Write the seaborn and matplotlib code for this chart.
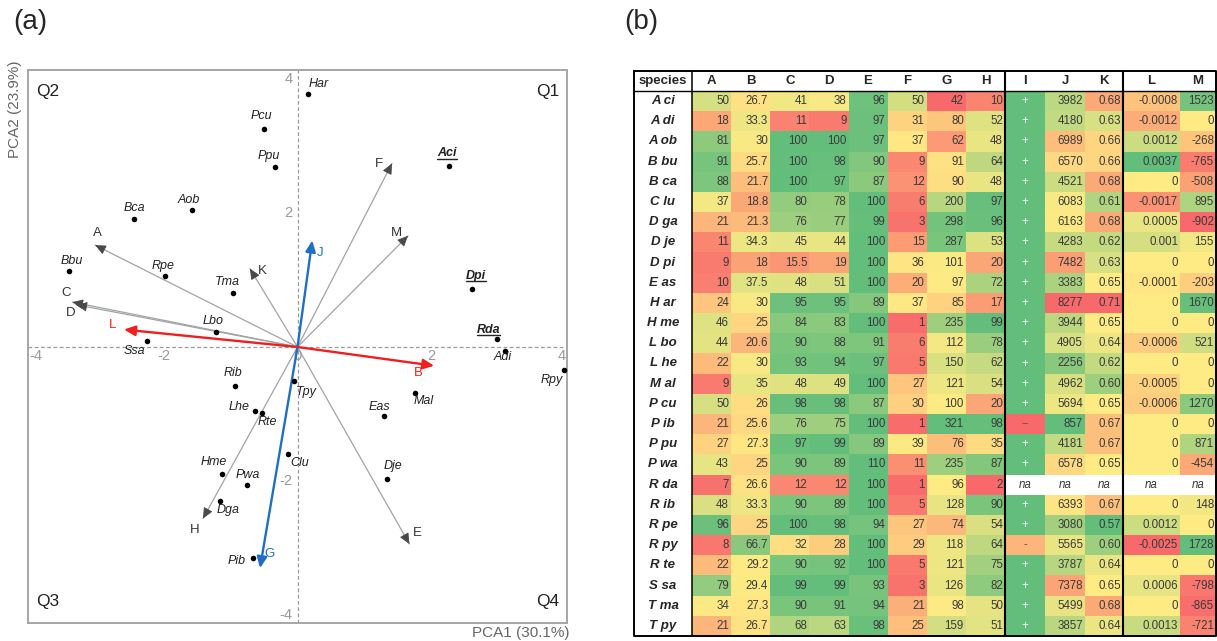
import numpy as np
import pandas as pd
import matplotlib
matplotlib.use("Agg")
import matplotlib.pyplot as plt
import seaborn as sns
from matplotlib import font_manager
from matplotlib.colors import LinearSegmentedColormap, TwoSlopeNorm
from matplotlib.lines import Line2D

# ---------------- panel (a): PCA biplot data ----------------
sp_codes = ["Aci", "Adi", "Aob", "Bbu", "Bca", "Clu", "Dga", "Dje", "Dpi", "Eas",
            "Har", "Hme", "Lbo", "Lhe", "Mal", "Pcu", "Pib", "Ppu", "Pwa", "Rda",
            "Rib", "Rpe", "Rpy", "Rte", "Ssa", "Tma", "Tpy"]
sp_pc1 = [2.26, 3.10, -1.58, -3.41, -2.44, -0.14, -1.16, 1.33, 2.60, 1.29,
          0.15, -1.13, -1.22, -0.64, 1.75, -0.50, -0.66, -0.33, -0.76, 2.97,
          -0.93, -1.97, 3.97, -0.53, -2.24, -0.97, -0.05]
sp_pc2 = [2.70, -0.06, 2.04, 1.14, 1.91, -1.60, -2.30, -1.97, 0.87, -1.03,
          3.77, -1.90, 0.23, -0.95, -0.69, 3.25, -3.15, 2.68, -2.06, 0.12,
          -0.58, 1.06, -0.35, -0.99, 0.09, 0.80, -0.50]
sp_highlight = ["Aci", "Dpi", "Rda"]

var_names = ["A", "B", "C", "D", "E", "F", "G", "H", "J", "K", "L", "M"]
var_pc1 = [-3.02, 2.04, -3.36, -3.30, 1.67, 1.41, -0.56, -1.41, 0.22, -0.71, -2.59, 1.65]
var_pc2 = [1.52, -0.28, 0.67, 0.63, -2.94, 2.74, -3.30, -2.56, 1.59, 1.17, 0.26, 1.66]

pc1_label = "PCA1 (30.1%)"
pc2_label = "PCA2 (23.9%)"
quadrants = ["Q1", "Q2", "Q3", "Q4"]

# ---------------- panel (b): table data ----------------
species = ["A ci", "A di", "A ob", "B bu", "B ca", "C lu", "D ga", "D je", "D pi",
           "E as", "H ar", "H me", "L bo", "L he", "M al", "P cu", "P ib", "P pu",
           "P wa", "R da", "R ib", "R pe", "R py", "R te", "S sa", "T ma", "T py"]
col_A = [50, 18, 81, 91, 88, 37, 21, 11, 9, 10, 24, 46, 44, 22, 9, 50, 21, 27, 43, 7, 48, 96, 8, 22, 79, 34, 21]
col_B = [26.7, 33.3, 30, 25.7, 21.7, 18.8, 21.3, 34.3, 18, 37.5, 30, 25, 20.6, 30, 35, 26, 25.6,
         27.3, 25, 26.6, 33.3, 25, 66.7, 29.2, 29.4, 27.3, 26.7]
col_C = [41, 11, 100, 100, 100, 80, 76, 45, 15.5, 48, 95, 84, 90, 93, 48, 98, 76, 97, 90, 12,
         90, 100, 32, 90, 99, 90, 68]
col_D = [38, 9, 100, 98, 97, 78, 77, 44, 19, 51, 95, 83, 88, 94, 49, 98, 75, 99, 89, 12,
         89, 98, 28, 92, 99, 91, 63]
col_E = [96, 97, 97, 90, 87, 100, 99, 100, 100, 100, 89, 100, 91, 97, 100, 87, 100, 89, 110,
         100, 100, 94, 100, 100, 93, 94, 98]
col_F = [50, 31, 37, 9, 12, 6, 3, 15, 36, 20, 37, 1, 6, 5, 27, 30, 1, 39, 11, 1, 5, 27, 29, 5, 3, 21, 25]
col_G = [42, 80, 62, 91, 90, 200, 298, 287, 101, 97, 85, 235, 112, 150, 121, 100, 321, 76, 235,
         96, 128, 74, 118, 121, 126, 98, 159]
col_H = [10, 52, 48, 64, 48, 97, 96, 53, 20, 72, 17, 99, 78, 62, 54, 20, 98, 35, 87, 2, 90, 54,
         64, 75, 82, 50, 51]
col_I = ["+", "+", "+", "+", "+", "+", "+", "+", "+", "+", "+", "+", "+", "+", "+", "+", "--",
         "+", "+", None, "+", "+", "-", "+", "+", "+", "+"]
col_J = [3982, 4180, 6989, 6570, 4521, 6083, 6163, 4283, 7482, 3383, 8277, 3944, 4905, 2256,
         4962, 5694, 857, 4181, 6578, None, 6393, 3080, 5565, 3787, 7378, 5499, 3857]
col_K = [0.68, 0.63, 0.66, 0.66, 0.68, 0.61, 0.68, 0.62, 0.63, 0.65, 0.71, 0.65, 0.64, 0.62,
         0.60, 0.65, 0.67, 0.67, 0.65, None, 0.67, 0.57, 0.60, 0.64, 0.65, 0.68, 0.64]
col_L = [-0.0008, -0.0012, 0.0012, 0.0037, 0, -0.0017, 0.0005, 0.001, 0, -0.0001, 0, 0,
         -0.0006, 0, -0.0005, -0.0006, 0, 0, 0, None, 0, 0.0012, -0.0025, 0, 0.0006, 0, 0.0013]
col_M = [1523, 0, -268, -765, -508, 895, -902, 155, 0, -203, 1670, 0, 521, 0, 0, 1270, 0, 871,
         -454, None, 148, 0, 1728, 0, -798, -865, -721]

table_cols = ["A", "B", "C", "D", "E", "F", "G", "H", "I", "J", "K", "L", "M"]
table = pd.DataFrame({"A": col_A, "B": col_B, "C": col_C, "D": col_D, "E": col_E,
                      "F": col_F, "G": col_G, "H": col_H, "I": col_I, "J": col_J,
                      "K": col_K, "L": col_L, "M": col_M}, index=species)

# colour scale per column: (low, mid, high, reversed)
scales = {"A": (5, 32, 100, False), "B": (10, 28, 80, False), "C": (5, 35, 100, False),
          "D": (5, 35, 100, False), "E": (0, 50, 100, False), "F": (0, 38, 80, False),
          "G": (42, 95, 321, False), "H": (2, 40, 99, False),
          "J": (857, 6300, 8277, True), "K": (0.57, 0.65, 0.71, True),
          "L": (-0.0025, 0, 0.0037, False), "M": (-902, 0, 1728, False)}
sign_level = {"+": 1.0, "-": 0.3, "--": 0.0}
fmt = {"K": "{:.2f}"}

# ---------------- style ----------------
sns.set_style("white")
plt.rcParams["font.family"] = ["Liberation Sans", "DejaVu Sans"]
available = {f.name for f in font_manager.fontManager.ttflist}
NARROW = "Liberation Sans Narrow" if "Liberation Sans Narrow" in available else "Liberation Sans"
NUM_SIZE = 9.5 if NARROW.endswith("Narrow") else 8.3

W, H = 1217, 641
fig = plt.figure(figsize=(W / 100, H / 100), dpi=100)


def fbox(x0, y0, x1, y1):
    # pixel box (top-left origin) -> figure fraction rect
    return [x0 / W, 1 - y1 / H, (x1 - x0) / W, (y1 - y0) / H]


# ================= (a) biplot =================
ax = fig.add_axes(fbox(28, 70, 567, 623))
ax.set_xlim(-4.022, 4.022)
ax.set_ylim(-4.119, 4.134)
ax.set_xticks([])
ax.set_yticks([])
for s in ax.spines.values():
    s.set_color("#a6a6a6")
    s.set_linewidth(1.4)
ax.axhline(0, color="#9a9a9a", lw=0.9, ls=(0, (3, 2)), zorder=1)
ax.axvline(0, color="#9a9a9a", lw=0.9, ls=(0, (3, 2)), zorder=1)

# tick labels drawn inside the frame, next to the dashed axes
tick_col = "#9a9a9a"
for v, ha in [(-4, "left"), (-2, "center"), (2, "center"), (4, "right")]:
    ax.text(v, -0.03, str(v), ha=ha, va="top", fontsize=10.5, color=tick_col)
ax.text(0, -0.03, "0", ha="center", va="top", fontsize=10.5, color=tick_col)
for v in [-4, -2, 2, 4]:
    ax.text(-0.07, v, str(v), ha="right", va="center", fontsize=10.5, color=tick_col)

arrow_col = {"L": "#f01e1e", "B": "#f01e1e", "J": "#1f6fc4", "G": "#1f6fc4"}
var_offset = {"A": (2, 12), "C": (-6, 9), "D": (-6, -8), "L": (-11, 5), "K": (12, -2),
              "J": (8, -13), "F": (-13, -1), "M": (-12, 3), "B": (-16, -7), "E": (8, 11),
              "H": (-8, -11), "G": (10, 14)}
for name, x, y in zip(var_names, var_pc1, var_pc2):
    c = arrow_col.get(name)
    if c:
        ax.annotate("", xy=(x, y), xytext=(0, 0), zorder=3,
                    arrowprops=dict(arrowstyle="-|>,head_length=0.55,head_width=0.25",
                                    color=c, lw=1.7, shrinkA=0, shrinkB=0, mutation_scale=12))
        tc = c
    else:
        ax.plot([0, x], [0, y], color="#a3a3a3", lw=0.9, zorder=2)
        L = np.hypot(x, y)
        ax.annotate("", xy=(x, y), xytext=(x - 0.1 * x / L, y - 0.1 * y / L), zorder=3,
                    arrowprops=dict(arrowstyle="-|>,head_length=0.55,head_width=0.25",
                                    color="#4a4a4a", lw=0.6, shrinkA=0, shrinkB=0, mutation_scale=12))
        tc = "#333333"
    ax.annotate(name, xy=(x, y), xytext=var_offset[name], textcoords="offset pixels",
                ha="center", va="center", fontsize=9.5, color=tc)

sns.scatterplot(x=sp_pc1, y=sp_pc2, ax=ax, color="black", s=16, linewidth=0, zorder=5, legend=False)

sp_offset = {"Har": (11, 10), "Pcu": (-3, 13), "Ppu": (-7, 11), "Aob": (-3, 10), "Bca": (0, 11),
             "Bbu": (3, 10), "Rpe": (-2, 10), "Tma": (-5, 11), "Lbo": (-3, 11), "Ssa": (-13, -10),
             "Aci": (-2, 13), "Dpi": (4, 13), "Rda": (-8, 9), "Adi": (-3, -6), "Rpy": (-12, -10),
             "Mal": (9, -8), "Eas": (-5, 9), "Dje": (6, 13), "Tpy": (12, -11), "Rib": (-2, 13),
             "Lhe": (-16, 4), "Rte": (5, -9), "Clu": (12, -9), "Hme": (-8, 12), "Pwa": (1, 10),
             "Dga": (8, -9), "Pib": (-17, -3)}
underline_texts = []
for code, x, y in zip(sp_codes, sp_pc1, sp_pc2):
    bold = code in sp_highlight
    t = ax.annotate(code, xy=(x, y), xytext=sp_offset[code], textcoords="offset pixels",
                    ha="center", va="center", fontsize=9, style="italic",
                    fontweight="bold" if bold else "normal", color="#222222", zorder=6)
    if bold:
        underline_texts.append(t)

qpos = {"Q1": (0.985, 0.975, "right", "top"), "Q2": (0.015, 0.975, "left", "top"),
        "Q3": (0.015, 0.025, "left", "bottom"), "Q4": (0.985, 0.025, "right", "bottom")}
for q in quadrants:
    px, py, ha, va = qpos[q]
    ax.text(px, py, q, transform=ax.transAxes, ha=ha, va=va, fontsize=12.5, color="#222222")

fig.text(15 / W, 1 - 60 / H, pc2_label, rotation=90, ha="center", va="top", fontsize=11, color="#666666")
fig.text(570 / W, 1 - 633 / H, pc1_label, ha="right", va="center", fontsize=11, color="#666666")
fig.text(30 / W, 1 - 22 / H, "(a)", ha="center", va="center", fontsize=20)
fig.text(641 / W, 1 - 22 / H, "(b)", ha="center", va="center", fontsize=20)

# ================= (b) coloured table =================
cmap = LinearSegmentedColormap.from_list("excel_rdylgn", ["#F8696B", "#FFEB84", "#63BE7B"])
col_edges = [634, 692] + list(np.linspace(692, 1005, 9)[1:]) + [1045, 1085, 1123, 1180, 1216]
top, head_bot, bot = 71, 91, 636
n = len(species)
row_h = (bot - head_bot) / n

levels = pd.DataFrame(index=species)
for col in table_cols:
    if col == "I":
        levels[col] = [sign_level[v] if v is not None else np.nan for v in table[col]]
    else:
        lo, mid, hi, rev = scales[col]
        norm = TwoSlopeNorm(vcenter=mid, vmin=lo, vmax=hi)
        vals = pd.to_numeric(table[col], errors="coerce").to_numpy(dtype=float)
        lv = np.clip(np.asarray(norm(np.ma.masked_invalid(vals)).filled(np.nan)), 0, 1)
        levels[col] = 1 - lv if rev else lv

for j, col in enumerate(table_cols):
    x0, x1 = col_edges[j + 1], col_edges[j + 2]
    hax = fig.add_axes(fbox(x0, head_bot, x1, bot))
    sns.heatmap(levels[[col]], ax=hax, cmap=cmap, vmin=0, vmax=1, cbar=False,
                xticklabels=False, yticklabels=False, mask=levels[[col]].isna())
    hax.set_xlabel("")
    hax.set_ylabel("")

tab = fig.add_axes(fbox(634, top, 1216, bot))
tab.set_xlim(634, 1216)
tab.set_ylim(bot, top)
tab.axis("off")
tab.patch.set_alpha(0)

hy = (top + head_bot) / 2
tab.text((col_edges[0] + col_edges[1]) / 2, hy, "species", ha="center", va="center",
         fontsize=9.5, fontweight="bold")
for j, col in enumerate(table_cols):
    tab.text((col_edges[j + 1] + col_edges[j + 2]) / 2, hy, col, ha="center", va="center",
             fontsize=9.5, fontweight="bold")

for i, sp in enumerate(species):
    yc = head_bot + (i + 0.5) * row_h
    tab.text((col_edges[0] + col_edges[1]) / 2, yc, sp, ha="center", va="center",
             fontsize=9.5, fontweight="bold", style="italic")
    for j, col in enumerate(table_cols):
        x0, x1 = col_edges[j + 1], col_edges[j + 2]
        v = table[col].iloc[i]
        if v is None or (isinstance(v, float) and np.isnan(v)):
            tab.text((x0 + x1) / 2, yc, "na", ha="center", va="center", fontsize=NUM_SIZE,
                     style="italic", color="#333333", family=NARROW)
        elif col == "I":
            tab.text((x0 + x1) / 2, yc, v, ha="center", va="center", fontsize=NUM_SIZE,
                     color="#f2f2f2" if v == "+" else "#555555", family=NARROW)
        else:
            s = fmt.get(col, "{:g}").format(v)
            tab.text(x1 - 2, yc, s, ha="right", va="center", fontsize=NUM_SIZE,
                     color="#3a3a3a", family=NARROW)

# frame and separators
tab.plot([634, 1216, 1216, 634, 634], [top, top, bot, bot, top], color="black", lw=1.4,
         clip_on=False)
tab.plot([634, 1216], [head_bot, head_bot], color="black", lw=1.0)
for xs, lw in [(col_edges[1], 1.1), (1005, 1.5), (1123, 1.5)]:
    tab.plot([xs, xs], [top, bot], color="black", lw=lw)

# underline highlighted species in the biplot
fig.canvas.draw()
renderer = fig.canvas.get_renderer()
fw, fh = fig.bbox.width, fig.bbox.height
for t in underline_texts:
    bb = t.get_window_extent(renderer)
    fig.add_artist(Line2D([bb.x0 / fw, bb.x1 / fw], [(bb.y0 + 0.5) / fh] * 2,
                          transform=fig.transFigure, color="#222222", lw=1.0))

fig.savefig("out.png", dpi=100)
